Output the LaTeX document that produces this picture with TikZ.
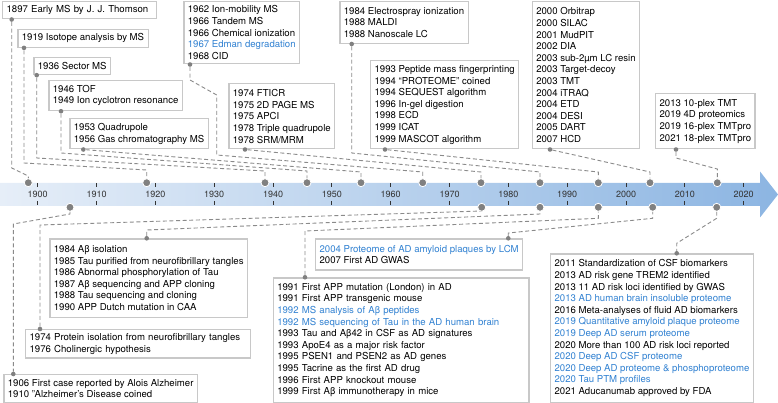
\documentclass[tikz,border=0pt]{standalone}
\usepackage{fontspec}
\setmainfont{TeX Gyre Heros}
\usetikzlibrary{calc, backgrounds}

\definecolor{boxgray}{RGB}{200,200,200}
\definecolor{dotgray}{RGB}{128,128,128}
\definecolor{linegray}{RGB}{138,138,138}
\definecolor{adblue}{RGB}{50,130,210}
\definecolor{bandlight}{RGB}{230,238,248}
\definecolor{banddark}{RGB}{140,181,226}
\definecolor{ticktext}{RGB}{51,51,51}

\newcommand{\hl}[1]{\textcolor{adblue}{#1}}

\begin{document}
\begin{tikzpicture}[
    x=1pt, y=-1pt,
    font=\fontsize{9.6}{11.6}\selectfont,
    box/.style={draw=boxgray, line width=1.2pt, fill=white, anchor=north west,
                align=left, inner xsep=4pt, inner ysep=0pt},
    conn/.style={draw=linegray, line width=0.9pt, dash pattern=on 4pt off 2.6pt},
    axisdot/.style={circle, fill=dotgray, draw=white, line width=0.8pt,
                    minimum size=8pt, inner sep=0pt},
    boxdot/.style={circle, fill=dotgray, minimum size=4.6pt, inner sep=0pt},
    yearlbl/.style={font=\fontsize{9}{10}\selectfont, text=ticktext, inner sep=0pt},
    tick/.style={draw=ticktext, line width=0.9pt},
]
    \useasboundingbox (0,0) rectangle (778,403);

    %==================== TIME AXIS ====================
    \begin{scope}[on background layer]
        \shade[left color=bandlight, right color=banddark]
            (0,183) -- (760,183) -- (760,171.5) -- (778,194.5) -- (760,217.5)
            -- (760,206) -- (0,206) -- cycle;
    \end{scope}
    \foreach \yr in {1900,1910,...,2020} {
        \pgfmathsetmacro\xx{37.7+5.883*(\yr-1900)}
        \node[yearlbl] (y\yr) at (\xx,194.5) {\yr};
        \draw[tick] (\xx,183.5) -- (\xx,187.5) (\xx,201.5) -- (\xx,205.5);
    }

    %==================== MS MILESTONES (top) ====================
    \node[box, text width=146pt, minimum height=17.3pt] (ms1) at (2,1)
        {1897 Early MS by J. J. Thomson};
    \node[box, minimum height=17.7pt] (ms2) at (17.3,29) {1919 Isotope analysis by MS};
    \node[box, minimum height=17.3pt] (ms3) at (33.3,56.7) {1936 Sector MS};
    \node[box, minimum height=30pt] (ms4) at (48.3,80)
        {1946 TOF\\1949 Ion cyclotron resonance};
    \node[box, minimum height=30pt] (ms5) at (69.3,118.3)
        {1953 Quadrupole\\1956 Gas chromatography MS};
    \node[box, minimum height=62.5pt] (ms6) at (183.3,0.8)
        {1962 Ion-mobility MS\\1966 Tandem MS\\1966 Chemical ionization\\
         \hl{1967 Edman degradation}\\1968 CID};
    \node[box, minimum height=65pt] (ms7) at (228.3,83.3)
        {1974 FTICR\\1975 2D PAGE MS\\1975 APCI\\1978 Triple quadrupole\\1978 SRM/MRM};
    \node[box, minimum height=42pt] (ms8) at (339.3,0.8)
        {1984 Electrospray ionization\\1988 MALDI\\1988 Nanoscale LC};
    \node[box, minimum height=88.3pt] (ms9) at (370,60)
        {1993 Peptide mass fingerprinting\\1994 “PROTEOME” coined\\1994 SEQUEST algorithm\\
         1996 In-gel digestion\\1998 ECD\\1999 ICAT\\1999 MASCOT algorithm};
    \node[box, minimum height=147.5pt] (ms10) at (531.7,0.8)
        {2000 Orbitrap\\2000 SILAC\\2001 MudPIT\\2002 DIA\\2003 sub-2µm LC resin\\
         2003 Target-decoy\\2003 TMT\\2004 iTRAQ\\2004 ETD\\2004 DESI\\2005 DART\\2007 HCD};
    \node[box, minimum height=55.3pt] (ms11) at (655,93)
        {2013 10-plex TMT\\2019 4D proteomics\\2019 16-plex TMTpro\\2021 18-plex TMTpro};

    %==================== AD MILESTONES (bottom) ====================
    \node[box, minimum height=27.7pt] (ad1) at (3.3,374)
        {1906 First case reported by Alois Alzheimer\\1910 "Alzheimer's Disease coined};
    \node[box, text width=217pt, minimum height=28.3pt] (ad2) at (25,329)
        {1974 Protein isolation from neurofibrillary tangles\\1976 Cholinergic hypothesis};
    \node[box, minimum height=78.4pt] (ad3) at (49.3,238.3)
        {1984 Aβ isolation\\1985 Tau purified from neurofibrillary tangles\\
         1986 Abnormal phosphorylation of Tau\\1987 Aβ sequencing and APP cloning\\
         1988 Tau sequencing and cloning\\1990 APP Dutch mutation in CAA};
    \node[box, text width=247.6pt, minimum height=124.4pt] (ad4) at (272.7,277.3)
        {1991 First APP mutation (London) in AD\\1991 First APP transgenic mouse\\
         \hl{1992 MS analysis of Aβ peptides}\\
         \hl{1992 MS sequencing of Tau in the AD human brain}\\
         1993 Tau and Aβ42 in CSF as AD signatures\\1993 ApoE4 as a major risk factor\\
         1995 PSEN1 and PSEN2 as AD genes\\1995 Tacrine as the first AD drug\\
         1996 First APP knockout mouse\\1999 First Aβ immunotherapy in mice};
    \node[box, minimum height=31pt] (ad5) at (315,238.3)
        {\hl{2004 Proteome of AD amyloid plaques by LCM}\\2007 First AD GWAS};
    \node[box, minimum height=148.4pt] (ad6) at (550,253.3)
        {2011 Standardization of CSF biomarkers\\2013 AD risk gene TREM2 identified\\
         2013 11 AD risk loci identified by GWAS\\
         \hl{2013 AD human brain insoluble proteome}\\
         2016 Meta-analyses of fluid AD biomarkers\\
         \hl{2019 Quantitative amyloid plaque proteome}\\
         \hl{2019 Deep AD serum proteome}\\
         2020 More than 100 AD risk loci reported\\
         \hl{2020 Deep AD CSF proteome}\\
         \hl{2020 Deep AD proteome \& phosphoproteome}\\
         \hl{2020 Tau PTM profiles}\\
         2021 Aducanumab approved by FDA};

    %==================== dots on boxes ====================
    \node[boxdot] (ms1p)  at ([xshift=9.7pt]ms1.south west) {};
    \node[boxdot] (ms2p)  at ([xshift=6.7pt]ms2.south west) {};
    \node[boxdot] (ms3p)  at ([xshift=3.4pt]ms3.south west) {};
    \node[boxdot] (ms4p)  at ([xshift=12.7pt]ms4.south west) {};
    \node[boxdot] (ms5p)  at ([xshift=14pt]ms5.south west) {};
    \node[boxdot] (ms6p)  at ([xshift=6.7pt]ms6.south west) {};
    \node[boxdot] (ms7p)  at ([xshift=16.7pt]ms7.south west) {};
    \node[boxdot] (ms8p)  at ([xshift=12.4pt]ms8.south west) {};
    \node[boxdot] (ms9p)  at ([xshift=15pt]ms9.south west) {};
    \node[boxdot] (ms10p) at ([xshift=18.3pt]ms10.south west) {};
    \node[boxdot] (ms11p) at ([xshift=21pt]ms11.south west) {};

    \node[boxdot] (ad1p) at ([xshift=10pt]ad1.north west) {};
    \node[boxdot] (ad2p) at ([xshift=15pt]ad2.north west) {};
    \node[boxdot] (ad3p) at ([xshift=97.4pt]ad3.north west) {};
    \node[boxdot] (ad4p) at ([xshift=32.3pt]ad4.north west) {};
    \node[boxdot] (ad5p) at ([xshift=-15pt]ad5.north east) {};
    \node[boxdot] (ad6p) at ([xshift=126.7pt]ad6.north west) {};

    %==================== dots on the axis ====================
    \node[axisdot] (ms1t)  at (28.3,182.7) {};
    \node[axisdot] (ms2t)  at (146.7,182.7) {};
    \node[axisdot] (ms3t)  at (265,182.7) {};
    \node[axisdot] (ms4t)  at (307,182.7) {};
    \node[axisdot] (ms5t)  at (361,182.7) {};
    \node[axisdot] (ms6t)  at (422.7,182.7) {};
    \node[axisdot] (ms7t)  at (481,182.7) {};
    \node[axisdot] (ms8t)  at (540,182.7) {};
    \node[axisdot] (ms9t)  at (598.3,182.7) {};
    \node[axisdot] (ms10t) at (650,182.7) {};
    \node[axisdot] (ms11t) at (717.3,182.7) {};

    \node[axisdot] (ad1t) at (70,207.3) {};
    \node[axisdot] (ad2t) at (481.7,207.3) {};
    \node[axisdot] (ad3t) at (540,207.3) {};
    \node[axisdot] (ad4t) at (598.3,207.3) {};
    \node[axisdot] (ad5t) at (652.7,207.3) {};
    \node[axisdot] (ad6t) at (716.7,207.3) {};

    %==================== connectors ====================
    \begin{scope}[on background layer]
        \draw[conn] (ms1p) -- (ms1p |- 0,168) -- (ms1t |- 0,176) -- (ms1t);
        \draw[conn] (ms2p) -- (ms2p |- 0,163) -- (ms2t |- 0,170) -- (ms2t);
        \draw[conn] (ms3p) -- (ms3p |- 0,158) -- (ms3t |- 0,171) -- (ms3t);
        \draw[conn] (ms4p) -- (ms4p |- 0,153) -- (ms4t |- 0,171) -- (ms4t);
        \draw[conn] (ms5p) -- (ms5t |- 0,172) -- (ms5t);
        \draw[conn] (ms6p) -- (ms6p |- 0,80) -- (216.7,95) -- (216.7,155)
            -- (ms6t |- 0,172) -- (ms6t);
        \draw[conn] (ms7p) -- (ms7t |- 0,172) -- (ms7t);
        \draw[conn] (ms8p) -- (ms8p |- 0,153) -- (ms8t |- 0,172) -- (ms8t);
        \draw[conn] (ms9p) -- (ms9t |- 0,172) -- (ms9t);
        \draw[conn] (ms10p) -- (ms10t |- 0,172) -- (ms10t);
        \draw[conn] (ms11p) -- (ms11p |- 0,158) -- (ms11t |- 0,169) -- (ms11t);

        \draw[conn] (ad1t) -- (ad1t |- 0,214) -- (ad1p |- 0,224) -- (ad1p);
        \draw[conn] (ad2p) -- (ad2p |- 0,225) -- (ad2t |- 0,211) -- (ad2t);
        \draw[conn] (ad3p) -- (ad3p |- 0,230) -- (ad3t |- 0,214) -- (ad3t);
        \draw[conn] (ad4p) -- (ad4p |- 0,231) -- (ad4t |- 0,218.3) -- (ad4t);
        \draw[conn] (ad5p) -- (ad5p |- 0,233) -- (ad5t |- 0,218.3) -- (ad5t);
        \draw[conn] (ad6t) -- (ad6t |- 0,218.3) -- (ad6p |- 0,243.3) -- (ad6p);
    \end{scope}

\end{tikzpicture}
\end{document}
